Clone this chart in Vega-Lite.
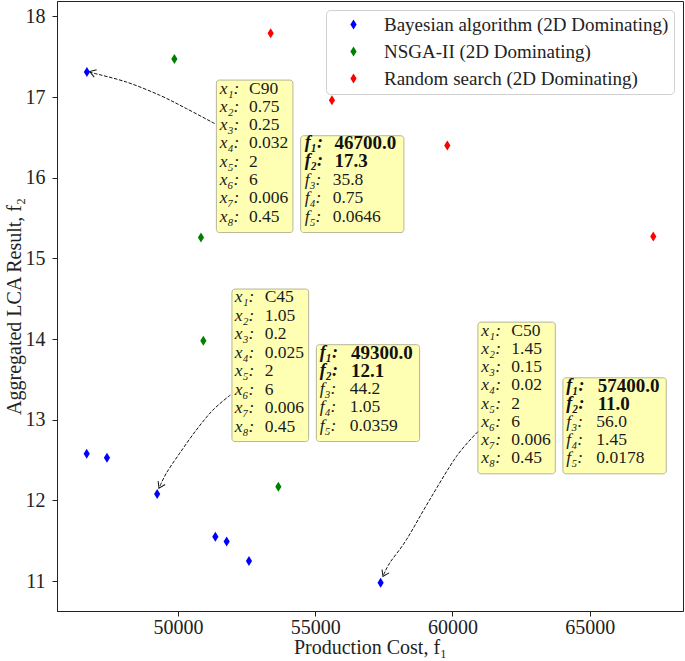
{
  "$schema": "https://vega.github.io/schema/vega-lite/v6.json",
  "width": 626,
  "height": 610,
  "autosize": {"type": "none"},
  "padding": {"left": 57, "top": 1, "right": 2, "bottom": 50},
  "background": "white",
  "config": {
    "view": {"stroke": "#222", "strokeWidth": 1},
    "font": "Liberation Serif",
    "axis": {
      "grid": false,
      "domainColor": "#222",
      "tickColor": "#222",
      "labelColor": "#222",
      "titleColor": "#222",
      "labelFont": "Liberation Serif",
      "titleFont": "Liberation Serif",
      "labelFontSize": 20,
      "titleFontSize": 20,
      "titleFontWeight": "normal",
      "tickSize": 5
    },
    "legend": {
      "orient": "top-right",
      "offset": 9,
      "title": null,
      "labelFont": "Liberation Serif",
      "labelFontSize": 19,
      "labelColor": "#222",
      "labelLimit": 0,
      "strokeColor": "#d0d0d0",
      "fillColor": "white",
      "cornerRadius": 4,
      "padding": 5,
      "rowPadding": 7,
      "symbolOffset": 13,
      "labelOffset": 21,
      "symbolStrokeWidth": 0
    }
  },
  "datasets": {
    "points": [
      {"method": "Bayesian algorithm (2D Dominating)", "cost": 46680, "lca": 17.31},
      {"method": "Bayesian algorithm (2D Dominating)", "cost": 46672, "lca": 12.58},
      {"method": "Bayesian algorithm (2D Dominating)", "cost": 47411, "lca": 12.53},
      {"method": "Bayesian algorithm (2D Dominating)", "cost": 49240, "lca": 12.08},
      {"method": "Bayesian algorithm (2D Dominating)", "cost": 51360, "lca": 11.55},
      {"method": "Bayesian algorithm (2D Dominating)", "cost": 51772, "lca": 11.49},
      {"method": "Bayesian algorithm (2D Dominating)", "cost": 52585, "lca": 11.25},
      {"method": "Bayesian algorithm (2D Dominating)", "cost": 57382, "lca": 10.98},
      {"method": "NSGA-II (2D Dominating)", "cost": 49867, "lca": 17.47},
      {"method": "NSGA-II (2D Dominating)", "cost": 50836, "lca": 15.26},
      {"method": "NSGA-II (2D Dominating)", "cost": 50923, "lca": 13.98},
      {"method": "NSGA-II (2D Dominating)", "cost": 53656, "lca": 12.17},
      {"method": "Random search (2D Dominating)", "cost": 53375, "lca": 17.79},
      {"method": "Random search (2D Dominating)", "cost": 55608, "lca": 16.96},
      {"method": "Random search (2D Dominating)", "cost": 59812, "lca": 16.40},
      {"method": "Random search (2D Dominating)", "cost": 67317, "lca": 15.27}
    ],
    "boxes": [
      {"box": "C90 parameters", "x1": 51397, "x2": 54187, "y1": 17.21, "y2": 15.32},
      {"box": "C90 objectives", "x1": 54468, "x2": 58231, "y1": 16.52, "y2": 15.32},
      {"box": "C45 parameters", "x1": 51965, "x2": 54759, "y1": 14.62, "y2": 12.73},
      {"box": "C45 objectives", "x1": 55040, "x2": 58803, "y1": 13.93, "y2": 12.73},
      {"box": "C50 parameters", "x1": 60927, "x2": 63747, "y1": 14.21, "y2": 12.33},
      {"box": "C50 objectives", "x1": 64024, "x2": 67790, "y1": 13.52, "y2": 12.33}
    ],
    "lines": [
      {"x": 51517, "vx": 52585, "y": 17.105, "label": "x₁:", "value": "C90", "kind": "param"},
      {"x": 51517, "vx": 52585, "y": 16.878, "label": "x₂:", "value": "0.75", "kind": "param"},
      {"x": 51517, "vx": 52585, "y": 16.652, "label": "x₃:", "value": "0.25", "kind": "param"},
      {"x": 51517, "vx": 52585, "y": 16.425, "label": "x₄:", "value": "0.032", "kind": "param"},
      {"x": 51517, "vx": 52585, "y": 16.198, "label": "x₅:", "value": "2", "kind": "param"},
      {"x": 51517, "vx": 52585, "y": 15.972, "label": "x₆:", "value": "6", "kind": "param"},
      {"x": 51517, "vx": 52585, "y": 15.745, "label": "x₇:", "value": "0.006", "kind": "param"},
      {"x": 51517, "vx": 52585, "y": 15.519, "label": "x₈:", "value": "0.45", "kind": "param"},
      {"x": 54614, "vx": 55700, "y": 16.431, "label": "f₁:", "value": "46700.0", "kind": "objective"},
      {"x": 54614, "vx": 55700, "y": 16.202, "label": "f₂:", "value": "17.3", "kind": "objective"},
      {"x": 54614, "vx": 55634, "y": 15.973, "label": "f₃:", "value": "35.8", "kind": "metric"},
      {"x": 54614, "vx": 55634, "y": 15.744, "label": "f₄:", "value": "0.75", "kind": "metric"},
      {"x": 54614, "vx": 55634, "y": 15.515, "label": "f₅:", "value": "0.0646", "kind": "metric"},
      {"x": 52064, "vx": 53157, "y": 14.517, "label": "x₁:", "value": "C45", "kind": "param"},
      {"x": 52064, "vx": 53157, "y": 14.288, "label": "x₂:", "value": "1.05", "kind": "param"},
      {"x": 52064, "vx": 53157, "y": 14.059, "label": "x₃:", "value": "0.2", "kind": "param"},
      {"x": 52064, "vx": 53157, "y": 13.830, "label": "x₄:", "value": "0.025", "kind": "param"},
      {"x": 52064, "vx": 53157, "y": 13.601, "label": "x₅:", "value": "2", "kind": "param"},
      {"x": 52064, "vx": 53157, "y": 13.372, "label": "x₆:", "value": "6", "kind": "param"},
      {"x": 52064, "vx": 53157, "y": 13.144, "label": "x₇:", "value": "0.006", "kind": "param"},
      {"x": 52064, "vx": 53157, "y": 12.915, "label": "x₈:", "value": "0.45", "kind": "param"},
      {"x": 55160, "vx": 56300, "y": 13.831, "label": "f₁:", "value": "49300.0", "kind": "objective"},
      {"x": 55160, "vx": 56300, "y": 13.605, "label": "f₂:", "value": "12.1", "kind": "objective"},
      {"x": 55160, "vx": 56253, "y": 13.379, "label": "f₃:", "value": "44.2", "kind": "metric"},
      {"x": 55160, "vx": 56253, "y": 13.153, "label": "f₄:", "value": "1.05", "kind": "metric"},
      {"x": 55160, "vx": 56253, "y": 12.927, "label": "f₅:", "value": "0.0359", "kind": "metric"},
      {"x": 61051, "vx": 62144, "y": 14.103, "label": "x₁:", "value": "C50", "kind": "param"},
      {"x": 61051, "vx": 62144, "y": 13.878, "label": "x₂:", "value": "1.45", "kind": "param"},
      {"x": 61051, "vx": 62144, "y": 13.651, "label": "x₃:", "value": "0.15", "kind": "param"},
      {"x": 61051, "vx": 62144, "y": 13.426, "label": "x₄:", "value": "0.02", "kind": "param"},
      {"x": 61051, "vx": 62144, "y": 13.201, "label": "x₅:", "value": "2", "kind": "param"},
      {"x": 61051, "vx": 62144, "y": 12.974, "label": "x₆:", "value": "6", "kind": "param"},
      {"x": 61051, "vx": 62144, "y": 12.749, "label": "x₇:", "value": "0.006", "kind": "param"},
      {"x": 61051, "vx": 62144, "y": 12.523, "label": "x₈:", "value": "0.45", "kind": "param"},
      {"x": 64147, "vx": 65290, "y": 13.419, "label": "f₁:", "value": "57400.0", "kind": "objective"},
      {"x": 64147, "vx": 65290, "y": 13.194, "label": "f₂:", "value": "11.0", "kind": "objective"},
      {"x": 64147, "vx": 65240, "y": 12.970, "label": "f₃:", "value": "56.0", "kind": "metric"},
      {"x": 64147, "vx": 65240, "y": 12.747, "label": "f₄:", "value": "1.45", "kind": "metric"},
      {"x": 64147, "vx": 65240, "y": 12.523, "label": "f₅:", "value": "0.0178", "kind": "metric"}
    ],
    "arrows": [
      {"arrow": "C90", "step": 0, "x": 51335, "y": 16.671},
      {"arrow": "C90", "step": 1, "x": 50304, "y": 16.857},
      {"arrow": "C90", "step": 2, "x": 49331, "y": 17.022},
      {"arrow": "C90", "step": 3, "x": 48118, "y": 17.186},
      {"arrow": "C90", "step": 4, "x": 46901, "y": 17.298},
      {"arrow": "C90", "step": 5, "x": 46781, "y": 17.315},
      {"arrow": "C45", "step": 0, "x": 51907, "y": 13.307},
      {"arrow": "C45", "step": 1, "x": 51273, "y": 13.121},
      {"arrow": "C45", "step": 2, "x": 50668, "y": 12.874},
      {"arrow": "C45", "step": 3, "x": 50060, "y": 12.585},
      {"arrow": "C45", "step": 4, "x": 49575, "y": 12.338},
      {"arrow": "C45", "step": 5, "x": 49306, "y": 12.152},
      {"arrow": "C50", "step": 0, "x": 60927, "y": 12.853},
      {"arrow": "C50", "step": 1, "x": 60140, "y": 12.543},
      {"arrow": "C50", "step": 2, "x": 59167, "y": 12.007},
      {"arrow": "C50", "step": 3, "x": 58319, "y": 11.512},
      {"arrow": "C50", "step": 4, "x": 57710, "y": 11.223},
      {"arrow": "C50", "step": 5, "x": 57466, "y": 11.057}
    ],
    "heads": [
      {"arrow": "C90", "x": 46781, "y": 17.315, "direction": 198},
      {"arrow": "C45", "x": 49306, "y": 12.152, "direction": 116},
      {"arrow": "C50", "x": 57466, "y": 11.057, "direction": 116}
    ]
  },
  "layer": [
    {
      "data": {"name": "boxes"},
      "mark": {"type": "rect", "fill": "#ffffb3", "stroke": "#b5b597", "strokeWidth": 1, "cornerRadius": 3},
      "encoding": {
        "x": {"field": "x1", "type": "quantitative", "scale": {"domain": [45590, 68400], "nice": false, "zero": false},
          "axis": {"values": [50000, 55000, 60000, 65000], "format": "d", "labelPadding": 1, "title": "Production Cost, f₁", "titlePadding": 0}},
        "x2": {"field": "x2"},
        "y": {"field": "y1", "type": "quantitative", "scale": {"domain": [10.63, 18.19], "nice": false, "zero": false},
          "axis": {"values": [11, 12, 13, 14, 15, 16, 17, 18], "format": "d", "labelPadding": 7, "title": "Aggregated LCA Result, f₂", "titlePadding": 1}},
        "y2": {"field": "y2"}
      }
    },
    {
      "data": {"name": "arrows"},
      "mark": {"type": "line", "color": "#111", "strokeWidth": 1, "strokeDash": [3.5, 1.6], "interpolate": "cardinal"},
      "encoding": {
        "x": {"field": "x", "type": "quantitative"},
        "y": {"field": "y", "type": "quantitative"},
        "detail": {"field": "arrow"},
        "order": {"field": "step", "type": "quantitative"}
      }
    },
    {
      "data": {"name": "heads"},
      "mark": {"type": "point", "shape": "M-1,-0.65L0,0L-1,0.65", "filled": false, "stroke": "#111", "strokeWidth": 1, "size": 144, "opacity": 1},
      "encoding": {
        "x": {"field": "x", "type": "quantitative"},
        "y": {"field": "y", "type": "quantitative"},
        "angle": {"field": "direction", "type": "quantitative", "scale": null}
      }
    },
    {
      "data": {"name": "lines"},
      "transform": [{"filter": "datum.kind !== 'objective'"}],
      "mark": {"type": "text", "align": "left", "baseline": "middle", "font": "Liberation Serif", "fontSize": 17.5, "fontStyle": "italic", "color": "#1a1a1a"},
      "encoding": {
        "x": {"field": "x", "type": "quantitative"},
        "y": {"field": "y", "type": "quantitative"},
        "text": {"field": "label"}
      }
    },
    {
      "data": {"name": "lines"},
      "transform": [{"filter": "datum.kind === 'objective'"}],
      "mark": {"type": "text", "align": "left", "baseline": "middle", "font": "Liberation Serif", "fontSize": 18, "fontStyle": "italic", "fontWeight": "bold", "color": "#111"},
      "encoding": {
        "x": {"field": "x", "type": "quantitative"},
        "y": {"field": "y", "type": "quantitative"},
        "text": {"field": "label"}
      }
    },
    {
      "data": {"name": "lines"},
      "transform": [{"filter": "datum.kind !== 'objective'"}],
      "mark": {"type": "text", "align": "left", "baseline": "middle", "font": "Liberation Serif", "fontSize": 17.5, "color": "#1a1a1a"},
      "encoding": {
        "x": {"field": "vx", "type": "quantitative"},
        "y": {"field": "y", "type": "quantitative"},
        "text": {"field": "value"}
      }
    },
    {
      "data": {"name": "lines"},
      "transform": [{"filter": "datum.kind === 'objective'"}],
      "mark": {"type": "text", "align": "left", "baseline": "middle", "font": "Liberation Serif", "fontSize": 19, "fontWeight": "bold", "color": "#111"},
      "encoding": {
        "x": {"field": "vx", "type": "quantitative"},
        "y": {"field": "y", "type": "quantitative"},
        "text": {"field": "value"}
      }
    },
    {
      "data": {"name": "points"},
      "mark": {"type": "point", "shape": "M0,-1L0.62,0L0,1L-0.62,0Z", "filled": true, "size": 100, "opacity": 1},
      "encoding": {
        "x": {"field": "cost", "type": "quantitative"},
        "y": {"field": "lca", "type": "quantitative"},
        "color": {
          "field": "method", "type": "nominal",
          "scale": {"domain": ["Bayesian algorithm (2D Dominating)", "NSGA-II (2D Dominating)", "Random search (2D Dominating)"], "range": ["#0000ff", "#008000", "#ff0000"]},
          "legend": {"symbolType": "M0,-1L0.62,0L0,1L-0.62,0Z", "symbolSize": 100, "symbolOpacity": 1}
        }
      }
    }
  ]
}
